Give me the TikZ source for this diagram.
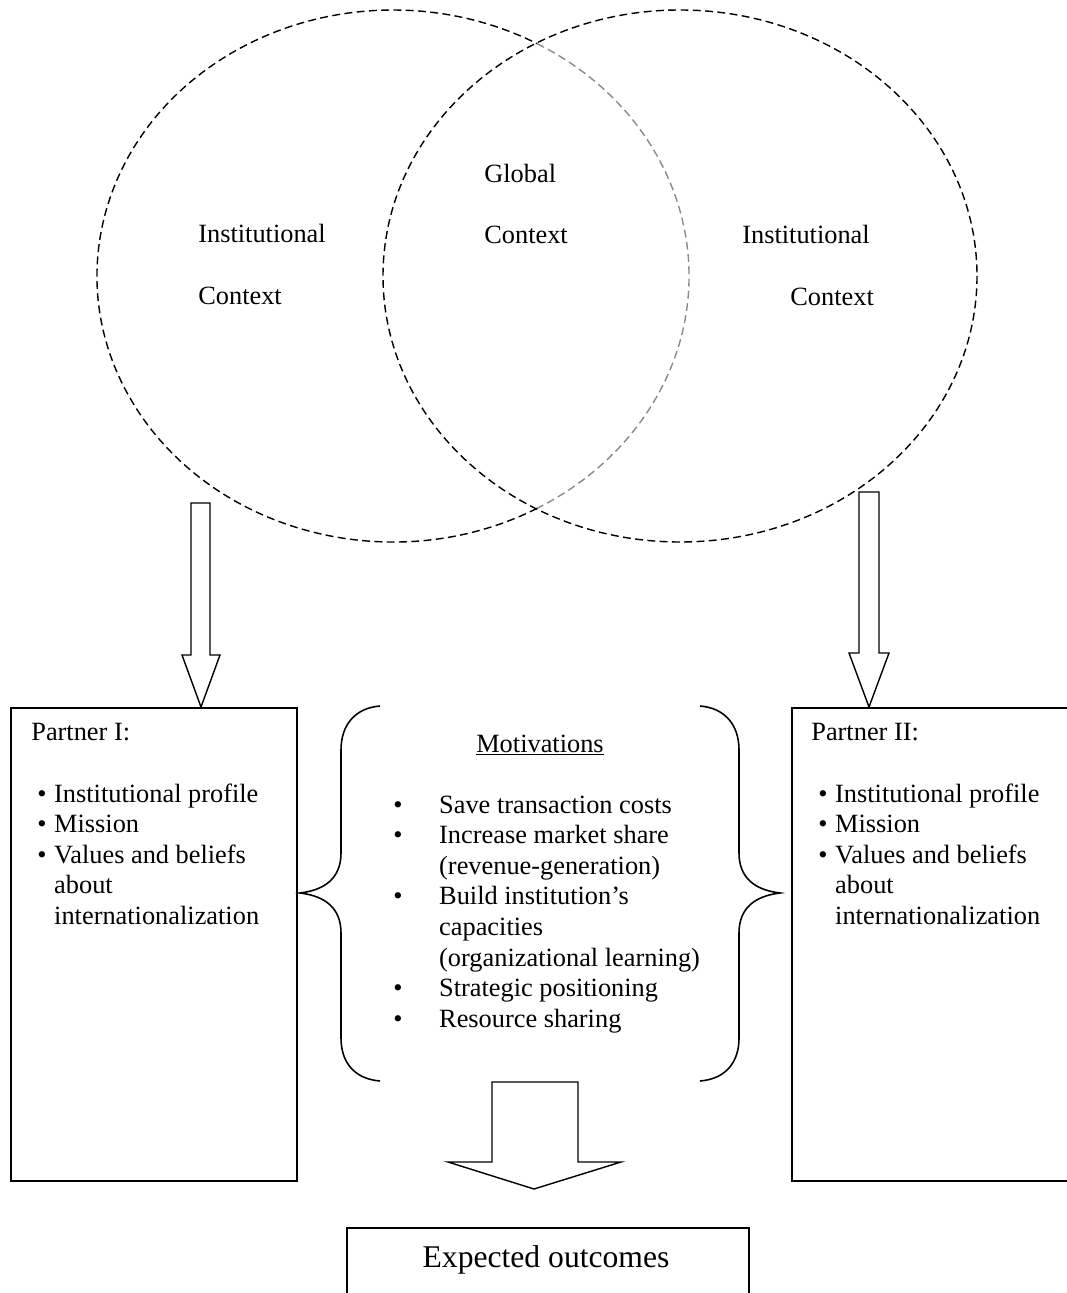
\documentclass[tikz,border=0pt]{standalone}
\usepackage{fontspec}
\setmainfont{Liberation Serif}
\usetikzlibrary{calc}
\definecolor{LineBlack}{HTML}{000000}
\definecolor{LineGray}{HTML}{8A8A8A}
\newcommand{\listbullet}[1]{\makebox[#1][l]{\textbullet}}
\tikzset{
    % Boxes with sharp corners
    partner box/.style={
        rectangle,
        draw=LineBlack,
        line width=1pt,
        anchor=north west,
        minimum width=5.72cm,
        minimum height=9.46cm,
        inner sep=0pt
    },
    outcome box/.style={
        partner box,
        minimum width=8.04cm,
        minimum height=2cm
    },
    body text/.style={
        inner sep=0pt,
        anchor=base west,
        font=\fontsize{15}{17.43}\selectfont
    },
    context ring/.style={
        draw=LineBlack,
        line width=0.8pt,
        dash pattern=on 4.5pt off 2.5pt
    },
    hollow arrow/.style={
        draw=LineBlack,
        line width=0.8pt,
        line join=miter,
        fill=white
    },
    brace line/.style={
        draw=LineBlack,
        line width=0.9pt
    }
}
\begin{document}
\begin{tikzpicture}[x=0.02cm, y=-0.02cm]
        \useasboundingbox (0,0) rectangle (1066,1293);

        % Context rings
        \coordinate (leftring) at (393,276);
        \coordinate (rightring) at (680,276);
        \draw[context ring] (leftring) ++(60.9:296 and 266)
            arc[start angle=60.9, end angle=299.1, x radius=296, y radius=266];
        \draw[context ring, draw=LineGray] (leftring) ++(-60.9:296 and 266)
            arc[start angle=-60.9, end angle=60.9, x radius=296, y radius=266];
        \draw[context ring] (rightring) ellipse[x radius=297, y radius=266];

        \node[body text] (instA) at (198,243) {Institutional};
        \node[body text] (ctxA) at (198,305) {Context};
        \node[body text] (global) at (484,183) {Global};
        \node[body text] (ctxG) at (484,244) {Context};
        \node[body text] (instB) at (742,244) {Institutional};
        \node[body text] (ctxB) at (790,306) {Context};

        % Partner boxes
        \node[partner box] (partnerA) at (10,707) {};
        \node[partner box] (partnerB) at (791,707) {};

        \node[body text] (titleA) at (31,740) {Partner I:};
        \node[body text] (listA) at (37,802) {%
            \begin{tabular}[t]{@{}l@{}}
            \listbullet{9.6pt}Institutional profile\\
            \listbullet{9.6pt}Mission\\
            \listbullet{9.6pt}Values and beliefs\\
            \hspace*{9.6pt}about\\
            \hspace*{9.6pt}internationalization
            \end{tabular}};

        \node[body text] (titleB) at (811,740) {Partner II:};
        \node[body text] (listB) at (818,802) {%
            \begin{tabular}[t]{@{}l@{}}
            \listbullet{9.6pt}Institutional profile\\
            \listbullet{9.6pt}Mission\\
            \listbullet{9.6pt}Values and beliefs\\
            \hspace*{9.6pt}about\\
            \hspace*{9.6pt}internationalization
            \end{tabular}};

        % Arrows from the rings down to the partners
        \coordinate (tipA) at (201,707);
        \coordinate (tipB) at (869,707);
        \draw[hollow arrow] (tipA) -- ++(-19,-52) -- ++(9,0) -- ++(0,-152)
            -- ++(19,0) -- ++(0,152) -- ++(10,0) -- cycle;
        \draw[hollow arrow] (tipB) -- ++(-20,-54) -- ++(10,0) -- ++(0,-161)
            -- ++(20,0) -- ++(0,161) -- ++(10,0) -- cycle;

        % Motivations between the braces
        \draw[brace line] (380,706) .. controls (355,708) and (341,725) .. (341,750)
            -- (341,853) .. controls (341,878) and (325,890) .. (300,893)
            .. controls (325,896) and (341,908) .. (341,933)
            -- (341,1038) .. controls (341,1063) and (355,1079) .. (380,1081);
        \draw[brace line] (700,706) .. controls (725,708) and (739,725) .. (739,750)
            -- (739,853) .. controls (739,878) and (755,890) .. (780,893)
            .. controls (755,896) and (739,908) .. (739,933)
            -- (739,1038) .. controls (739,1063) and (725,1079) .. (700,1081);

        \node[body text, anchor=base] (motiv) at (540,752) {\underline{Motivations}};
        \node[body text] (motivlist) at (393,813) {%
            \begin{tabular}[t]{@{}l@{}}
            \listbullet{26.1pt}Save transaction costs\\
            \listbullet{26.1pt}Increase market share\\
            \hspace*{26.1pt}(revenue-generation)\\
            \listbullet{26.1pt}Build institution’s\\
            \hspace*{26.1pt}capacities\\
            \hspace*{26.1pt}(organizational learning)\\
            \listbullet{26.1pt}Strategic positioning\\
            \listbullet{26.1pt}Resource sharing
            \end{tabular}};

        % Arrow to the outcomes
        \coordinate (tipC) at (534,1189);
        \draw[hollow arrow] (tipC) -- ++(-86,-27) -- ++(44,0) -- ++(0,-80)
            -- ++(86,0) -- ++(0,80) -- ++(43,0) -- cycle;

        \node[outcome box] (outcome) at (346,1227) {};
        \node[body text, anchor=base, font=\fontsize{18}{21}\selectfont] (outcometext) at (546,1267) {Expected outcomes};
    \end{tikzpicture}
\end{document}
